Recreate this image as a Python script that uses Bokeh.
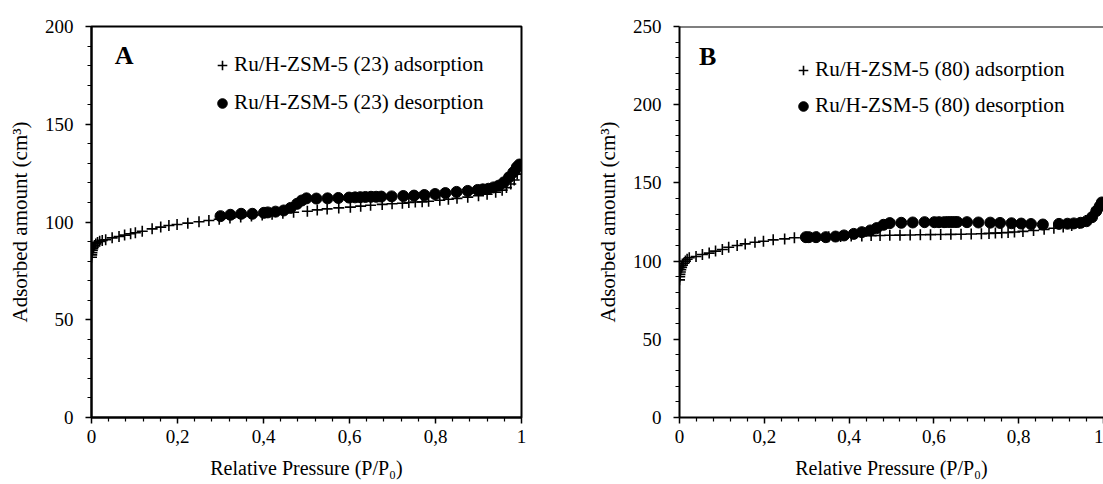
from bokeh.plotting import figure
from bokeh.layouts import row
from bokeh.models import (FixedTicker, Legend, LegendItem, Label, Span,
                          Range1d, CustomJSTickFormatter)
from bokeh.embed import file_html
from bokeh.resources import INLINE

FONT = "Liberation Serif"

# ---------------- data ----------------
x_ticks = [0, 0.2, 0.4, 0.6, 0.8, 1.0]
x_minor_ticks = [0.04, 0.08, 0.12, 0.16, 0.24, 0.28, 0.32, 0.36, 0.44, 0.48, 0.52, 0.56,
                 0.64, 0.68, 0.72, 0.76, 0.84, 0.88, 0.92, 0.96]
yA_ticks = [0, 50, 100, 150, 200]
yB_ticks = [0, 50, 100, 150, 200, 250]
yA_minor = [10, 20, 30, 40, 60, 70, 80, 90, 110, 120, 130, 140, 160, 170, 180, 190]
yB_minor = [10, 20, 30, 40, 60, 70, 80, 90, 110, 120, 130, 140, 160, 170, 180, 190,
            210, 220, 230, 240]

labelA = "Ru/H-ZSM-5 (23)"
labelB = "Ru/H-ZSM-5 (80)"

ads23_x = [0, 0.0005, 0.001, 0.002, 0.003, 0.005, 0.007, 0.01, 0.014, 0.019,
           0.025, 0.033, 0.048, 0.064, 0.077, 0.091, 0.102, 0.118, 0.141, 0.161,
           0.18, 0.199, 0.224, 0.25, 0.273, 0.297, 0.322, 0.347, 0.372, 0.397,
           0.42, 0.445, 0.47, 0.502, 0.525, 0.548, 0.575, 0.602, 0.626, 0.649,
           0.676, 0.699, 0.723, 0.738, 0.753, 0.769, 0.784, 0.81, 0.83, 0.85,
           0.875, 0.9, 0.92, 0.94, 0.955, 0.965, 0.975, 0.983, 0.99, 0.995, 0.998]
ads23_y = [82, 83.2, 84.3, 85.4, 86.3, 87.2, 88, 88.8, 89.5, 90.1,
           90.6, 90.9, 91.9, 92.6, 93.3, 94.0, 94.5, 95.3, 96.5, 97.4,
           98.2, 98.7, 99.4, 100.1, 100.8, 101.4, 102, 102.6, 103.1, 103.6,
           104, 104.5, 105, 105.5, 106.2, 106.7, 107.2, 107.6, 108.1, 108.6,
           109, 109.3, 109.6, 110, 110.2, 110.3, 110.6, 111.1, 111.6, 112.1,
           112.7, 113.4, 114.2, 115.2, 116.3, 117.6, 119.4, 121.5, 124.5, 127.5, 129]

des23_x = [0.3, 0.323, 0.348, 0.374, 0.401, 0.41, 0.428, 0.447, 0.463, 0.478,
           0.489, 0.5, 0.523, 0.549, 0.574, 0.599, 0.613, 0.625, 0.637, 0.65,
           0.662, 0.674, 0.698, 0.725, 0.75, 0.774, 0.799, 0.823, 0.849, 0.875,
           0.898, 0.91, 0.923, 0.935, 0.947, 0.959, 0.971, 0.981, 0.989, 0.995]
des23_y = [103, 103.7, 104.2, 104.2, 104.7, 104.9, 105.3, 105.9, 107.2, 109.3,
           111, 112.1, 112, 112.1, 112.3, 112.5, 112.6, 112.7, 112.8, 112.9,
           112.9, 113, 113.1, 113.3, 113.5, 113.8, 114.3, 114.8, 115.4, 115.9,
           116.4, 116.7, 117, 117.7, 118.6, 120.3, 122.9, 125.4, 128, 129.4]

ads80_x = [0, 0.0005, 0.001, 0.002, 0.003, 0.005, 0.007, 0.01, 0.014, 0.018,
           0.023, 0.039, 0.054, 0.07, 0.085, 0.101, 0.116, 0.136, 0.155, 0.178,
           0.198, 0.221, 0.248, 0.271, 0.298, 0.325, 0.352, 0.38, 0.405, 0.43,
           0.452, 0.473, 0.496, 0.52, 0.544, 0.568, 0.592, 0.616, 0.64, 0.664,
           0.688, 0.712, 0.73, 0.745, 0.76, 0.775, 0.79, 0.81, 0.835, 0.86,
           0.883, 0.905, 0.925, 0.943, 0.958, 0.97, 0.98, 0.988, 0.994]
ads80_y = [88, 90, 91.5, 93, 94.5, 96, 97.3, 98.6, 100, 101.2,
           102.1, 102.9, 104.2, 105.1, 106.4, 107.4, 108.9, 110, 111, 112.1,
           112.7, 113.6, 114.2, 114.9, 115.2, 115.4, 115.6, 115.8, 116, 116.1,
           116.3, 116.4, 116.5, 116.6, 116.7, 116.8, 116.9, 117, 117.1, 117.2,
           117.3, 117.5, 117.7, 117.9, 118.1, 118.3, 118.6, 119, 119.6, 120.3,
           121, 121.8, 122.8, 124.2, 126, 128.2, 130.8, 133.5, 136.5]

des80_x = [0.298, 0.305, 0.322, 0.345, 0.368, 0.388, 0.411, 0.43, 0.45, 0.465,
           0.481, 0.496, 0.523, 0.55, 0.578, 0.601, 0.612, 0.624, 0.632, 0.64,
           0.648, 0.655, 0.678, 0.705, 0.733, 0.756, 0.783, 0.806, 0.829, 0.857,
           0.895, 0.915, 0.93, 0.946, 0.96, 0.973, 0.983, 0.991, 0.996]
des80_y = [115.3, 115.3, 115.3, 115.3, 115.7, 116.4, 117.4, 118.5, 119.6, 121.1,
           123.2, 124.3, 124.5, 124.7, 124.9, 124.9, 124.9, 124.9, 125, 125,
           125, 125, 124.9, 124.7, 124.6, 124.4, 124.2, 124, 123.7, 123.4,
           123.8, 123.9, 124.1, 124.5, 125.5, 128.1, 132, 135, 137.5]

# ---------------- layout constants ----------------
FIG_H = 484
BORDER_T = 26
BORDER_B = 67
A_BORDER_L = 91
A_WIDTH = 592
A_BORDER_R = 71
B_BORDER_L = 81
B_WIDTH = 511
B_X_END = 1.0    # right panel is cut off by the window edge


def style_axis(ax, label_size="20px"):
    ax.axis_line_width = 2
    ax.axis_line_color = "black"
    ax.major_tick_line_width = 1.5
    ax.minor_tick_line_width = 1.2
    ax.major_tick_in = 0
    ax.major_tick_out = 6
    ax.minor_tick_in = 0
    ax.minor_tick_out = 4
    ax.major_label_text_font = FONT
    ax.major_label_text_font_size = "19px"
    ax.major_label_text_color = "black"
    ax.axis_label_text_font = FONT
    ax.axis_label_text_font_size = label_size
    ax.axis_label_text_font_style = "normal"
    ax.axis_label_text_color = "black"


def make_panel(width, border_l, border_r, x_end, y_end, y_ticks, y_minor, ads_x, ads_y,
               des_x, des_y, series, letter, letter_x, letter_y, leg_loc, leg_spacing,
               outline):
    p = figure(width=width, height=FIG_H, output_backend="svg", toolbar_location=None,
               x_range=Range1d(0, x_end), y_range=Range1d(0, y_end),
               min_border_left=border_l, min_border_right=border_r,
               min_border_top=BORDER_T, min_border_bottom=BORDER_B,
               background_fill_color="white", border_fill_color="white")
    p.xgrid.visible = False
    p.ygrid.visible = False
    if outline:
        p.outline_line_color = "black"
        p.outline_line_width = 2
    else:
        p.outline_line_color = None
        p.add_layout(Span(location=y_end, dimension="width", line_color="black",
                          line_width=2))

    p.xaxis.ticker = FixedTicker(ticks=x_ticks, minor_ticks=x_minor_ticks)
    p.xaxis.formatter = CustomJSTickFormatter(code="return tick.toString().replace('.', ',');")
    p.yaxis.ticker = FixedTicker(ticks=y_ticks, minor_ticks=y_minor)
    p.xaxis.axis_label = "Relative Pressure (P/P\u2080)"
    p.yaxis.axis_label = "Adsorbed amount (cm\u00b3)"
    for ax in p.xaxis:
        style_axis(ax, "20px")
        ax.major_label_standoff = 6
        ax.axis_label_standoff = 11
    for ax in p.yaxis:
        style_axis(ax, "21px")
        ax.major_label_standoff = 12
        ax.axis_label_standoff = 10

    r_ads = p.scatter(ads_x, ads_y, marker="cross", size=11, line_color="black",
                      line_width=1.6)
    r_des = p.scatter(des_x, des_y, marker="circle", size=11, fill_color="black",
                      line_color="black")

    legend = Legend(items=[LegendItem(label=series + " adsorption", renderers=[r_ads]),
                           LegendItem(label=series + " desorption", renderers=[r_des])],
                    location=leg_loc, padding=0, margin=0, spacing=leg_spacing,
                    glyph_width=24, glyph_height=24, label_height=24, label_standoff=-2,
                    border_line_color=None, background_fill_alpha=0,
                    label_text_font=FONT, label_text_font_size="21.2px",
                    label_text_color="black")
    p.add_layout(legend)

    p.add_layout(Label(x=letter_x, y=letter_y, text=letter, text_font=FONT,
                       text_font_style="bold", text_font_size="26px",
                       text_color="black", text_baseline="alphabetic"))
    return p


pA = make_panel(A_WIDTH, A_BORDER_L, A_BORDER_R, 1.0, 200, yA_ticks, yA_minor,
                ads23_x, ads23_y, des23_x, des23_y, labelA,
                "A", 0.054, 185, (119, 302), 13, True)
pB = make_panel(B_WIDTH, B_BORDER_L, 0, B_X_END, 250, yB_ticks, yB_minor,
                ads80_x, ads80_y, des80_x, des80_y, labelB,
                "B", 0.046, 231, (112, 299), 11, False)

layout = row(pA, pB)

open("out.html", "w").write(file_html(layout, INLINE))
